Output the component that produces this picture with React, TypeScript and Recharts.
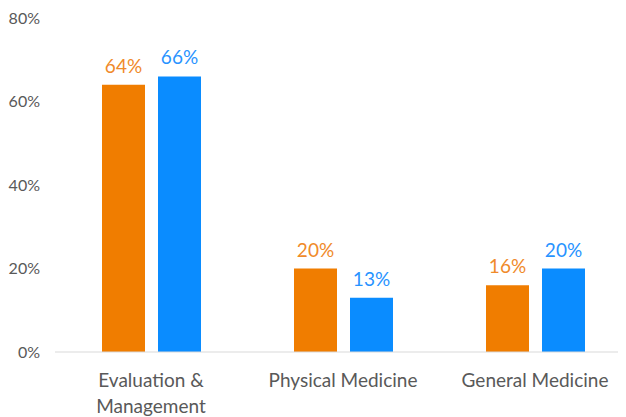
import React from "react";
import { BarChart, Bar, XAxis, YAxis, LabelList } from "recharts";

const categories = ["Evaluation & Management", "Physical Medicine", "General Medicine"];
const seriesA = [64, 20, 16];
const seriesB = [66, 13, 20];
const yTicks = [0, 20, 40, 60, 80];

const data = categories.map((c, i) => ({ name: c, a: seriesA[i], b: seriesB[i] }));

const FONT = "Lato, 'Liberation Sans', sans-serif";
const ORANGE = "#F07D00";
const BLUE = "#0A8CFF";

const CategoryTick = (props: any) => {
  const { x, y, payload } = props;
  const label: string = payload.value;
  const lines = label.includes("& ") ? label.replace("& ", "&\n").split("\n") : [label];
  return (
    <text x={x} y={y} textAnchor="middle" fill="#595959" fontSize={19} fontFamily={FONT}>
      {lines.map((l, i) => (
        <tspan key={i} x={x} dy={i === 0 ? 15 : 26}>
          {l}
        </tspan>
      ))}
    </text>
  );
};

export default function App() {
  return (
    <div style={{ width: 618, height: 409, overflow: "hidden" }}>
      <BarChart
        width={623}
        height={409}
        data={data}
        margin={{ top: 10, right: 0, bottom: 7, left: 0 }}
        barSize={43}
        barGap={13}
      >
        <XAxis
          dataKey="name"
          axisLine={{ stroke: "#D9D9D9", strokeWidth: 1 }}
          tickLine={false}
          height={58}
          interval={0}
          tick={<CategoryTick />}
          tickMargin={14}
        />
        <YAxis
          width={47}
          domain={[0, 80]}
          ticks={yTicks}
          axisLine={false}
          tickLine={false}
          tickMargin={9}
          tickFormatter={(v: number) => `${v}%`}
          tick={{ fill: "#595959", fontSize: 16, fontFamily: FONT }}
        />
        <Bar dataKey="a" fill={ORANGE} isAnimationActive={false}>
          <LabelList
            dataKey="a"
            position="top"
            offset={12}
            formatter={(v: number) => `${v}%`}
            fill="#F08A2A"
            fontSize={19}
            fontFamily={FONT}
          />
        </Bar>
        <Bar dataKey="b" fill={BLUE} isAnimationActive={false}>
          <LabelList
            dataKey="b"
            position="top"
            offset={12}
            formatter={(v: number) => `${v}%`}
            fill="#2893FF"
            fontSize={19}
            fontFamily={FONT}
          />
        </Bar>
      </BarChart>
    </div>
  );
}
